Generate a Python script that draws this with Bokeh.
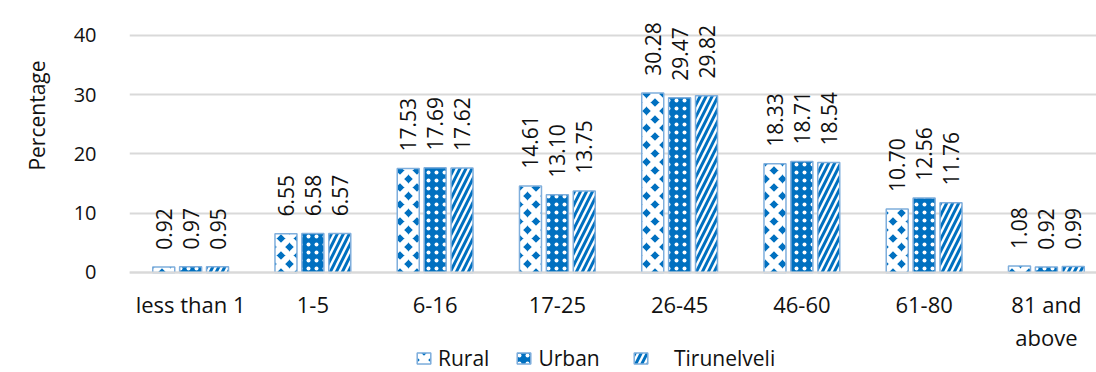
import math

from bokeh.core.properties import value
from bokeh.embed import file_html
from bokeh.models import FixedTicker, Legend, LegendItem, Range1d, Title
from bokeh.plotting import figure
from bokeh.resources import INLINE

# Age groups and the share of each population (percent)
categories = ["less than 1", "1-5", "6-16", "17-25", "26-45", "46-60", "61-80", "81 and\nabove"]
rural = [0.92, 6.55, 17.53, 14.61, 30.28, 18.33, 10.70, 1.08]
urban = [0.97, 6.58, 17.69, 13.10, 29.47, 18.71, 12.56, 0.92]
tirunelveli = [0.95, 6.57, 17.62, 13.75, 29.82, 18.54, 11.76, 0.99]
series_names = ["Rural", "Urban", "Tirunelveli"]
y_ticks = [0, 10, 20, 30, 40]

FONT = "Open Sans"
BLUE = "#0070C0"
EDGE = "#7FAEDC"
GRID = "#D9D9D9"
TEXT = "#111111"

# The frame runs to the bottom of the canvas; the category axis sits at y = 0
# and the legend is placed in the strip underneath it.
p = figure(
    width=1096, height=372,
    output_backend="svg", toolbar_location=None,
    x_range=Range1d(-0.5, 7.41), y_range=Range1d(-16.88, 45.9),
    min_border_left=127, min_border_right=0,
    min_border_top=0, min_border_bottom=0,
)
p.outline_line_color = None
p.background_fill_color = "white"
p.border_fill_color = "white"

# bar styles per series
styles = [
    dict(fill_color=BLUE, hatch_pattern="diagonal_cross", hatch_color="white",
         hatch_scale=17, hatch_weight=6),
    dict(fill_color=BLUE, hatch_pattern="dot", hatch_color="white",
         hatch_scale=8, hatch_weight=1),
    dict(fill_color="white", hatch_pattern="right_diagonal_line", hatch_color=BLUE,
         hatch_scale=12, hatch_weight=3),
]
offsets = [-0.22, 0.0, 0.22]
bar_width = 0.18
label_pad = 2.9  # gap between bar top and its value label, in data units

renderers = []
for vals, off, st in zip([rural, urban, tirunelveli], offsets, styles):
    xs = [i + off for i in range(len(categories))]
    r = p.vbar(x=xs, top=vals, width=bar_width,
               line_color=EDGE, line_width=1.5, **st)
    renderers.append(r)
    p.text(
        x=xs, y=[v + label_pad for v in vals], text=[f"{v:.2f}" for v in vals],
        angle=math.pi / 2, text_align="left", text_baseline="middle",
        text_font=value(FONT), text_font_size="21px", text_color=TEXT,
    )

# y axis (its title is set as a side title so it can sit level with the bars)
p.yaxis.ticker = FixedTicker(ticks=y_ticks)
p.yaxis.major_label_text_font = FONT
p.yaxis.major_label_text_font_size = "20px"
p.yaxis.major_label_text_color = TEXT
p.yaxis.major_label_standoff = 27
p.yaxis.axis_line_color = None
p.yaxis.major_tick_line_color = None
p.yaxis.minor_tick_line_color = None

p.add_layout(Title(text="Percentage", align="right", offset=60, standoff=40,
                   text_font=FONT, text_font_size="21px",
                   text_font_style="normal", text_color=TEXT), "left")

# x axis with category names, pinned to the zero line
p.xaxis.fixed_location = 0
p.xaxis.ticker = FixedTicker(ticks=list(range(len(categories))))
p.xaxis.major_label_overrides = {i: c for i, c in enumerate(categories)}
p.xaxis.major_label_text_font = FONT
p.xaxis.major_label_text_font_size = "22px"
p.xaxis.major_label_text_color = TEXT
p.xaxis.major_label_text_line_height = 1.07
p.xaxis.major_label_standoff = 11
p.xaxis.axis_line_color = GRID
p.xaxis.axis_line_width = 2
p.xaxis.major_tick_line_color = None
p.xaxis.minor_tick_line_color = None

p.xgrid.grid_line_color = None
p.ygrid.grid_line_color = GRID
p.ygrid.grid_line_width = 2


def make_legend(items, loc, standoff):
    leg = Legend(
        items=items, location=loc, orientation="horizontal",
        background_fill_alpha=0, border_line_color=None,
        padding=0, margin=0, spacing=26,
        glyph_width=17, glyph_height=14, label_standoff=standoff,
        label_text_font=FONT, label_text_font_size="21px",
        label_text_color=TEXT, label_height=20,
    )
    p.add_layout(leg)


make_legend([LegendItem(label=series_names[0], renderers=[renderers[0]]),
             LegendItem(label=series_names[1], renderers=[renderers[1]])],
            (286, 0), 6)
make_legend([LegendItem(label=series_names[2], renderers=[renderers[2]])],
            (503, 0), 25)

open("out.html", "w").write(file_html(p, INLINE))
